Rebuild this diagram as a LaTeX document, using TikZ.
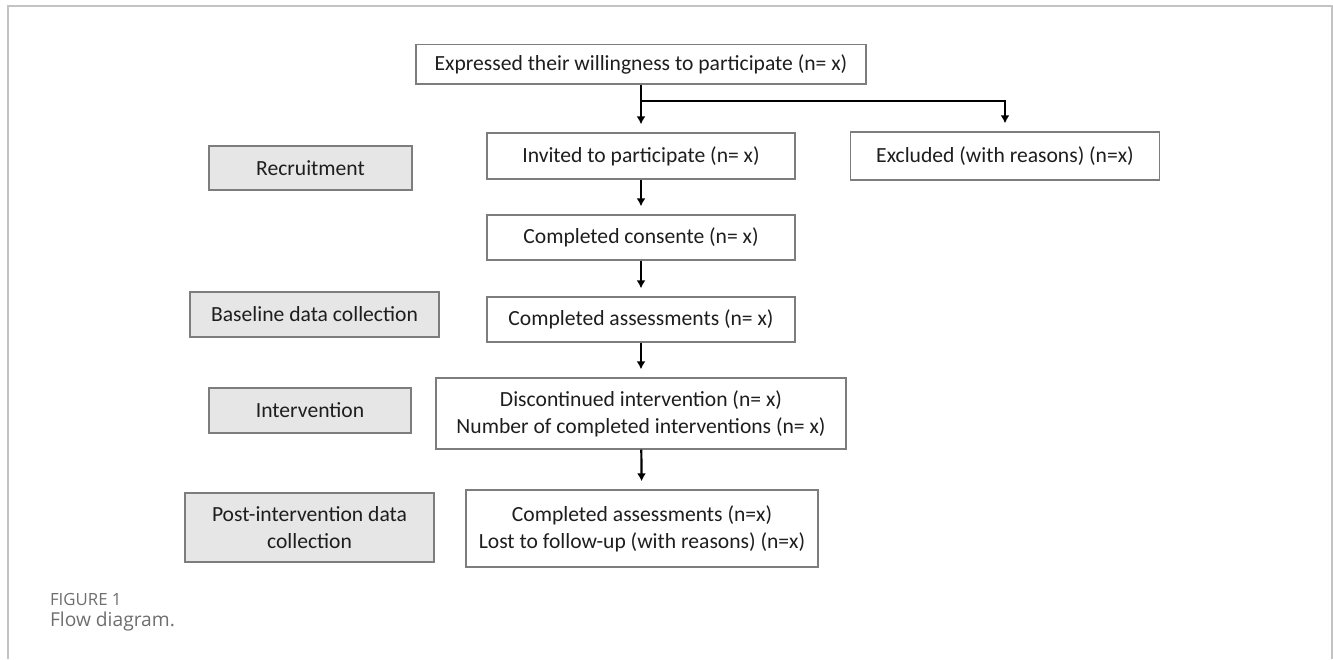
\documentclass[tikz,border=0pt]{standalone}
\usepackage{fontspec}
\setmainfont{Carlito}
\newfontfamily\piefont{Open Sans}
\usetikzlibrary{arrows.meta}
\definecolor{cajagris}{RGB}{230,230,230}
\definecolor{bordegris}{RGB}{125,125,125}
\definecolor{textogris}{RGB}{30,30,30}
\definecolor{piegris}{RGB}{110,110,110}
\definecolor{marcogris}{RGB}{195,195,195}

\begin{document}
\begin{tikzpicture}[x=0.5pt, y=-0.5pt,
                    >={Latex[length=4pt,width=4.5pt]},
                    every node/.style={font=\fontsize{10.8}{13.4}\selectfont, text=textogris},
                    caja/.style={draw=bordegris, line width=0.7pt, fill=white,
                                 align=center, inner sep=0pt},
                    etapa/.style={caja, fill=cajagris},
                    flecha/.style={->, line width=1.1pt, shorten >=4pt}]

    \useasboundingbox (0,0) rectangle (1333,659);

    % marco de la figura
    \draw[marcogris, line width=0.75pt] (8,659) -- (8,6) -- (1332,6) -- (1332,659);

    % ==========================================================
    % columna de etapas
    % ==========================================================
    \node[etapa, minimum width=101.5pt, minimum height=22pt] (lrecl) at (310.5,168) {Recruitment};
    \node[etapa, minimum width=124.5pt, minimum height=22.5pt] (lbase) at (314.5,314.5) {Baseline data collection};
    \node[etapa, minimum width=101pt, minimum height=22.5pt] (linterv) at (310,410.5) {Intervention};
    \node[etapa, minimum width=124.5pt, minimum height=34.5pt] (lpost) at (309.5,527.5)
        {Post-intervention data\\collection};

    % ==========================================================
    % flujo de participantes
    % ==========================================================
    \node[caja, minimum width=225pt, minimum height=19.7pt] (expr) at (641,64.4)
        {Expressed their willingness to participate (n= x)};
    \node[caja, minimum width=154pt, minimum height=23pt] (invit) at (641,156)
        {Invited to participate (n= x)};
    \node[caja, minimum width=154.5pt, minimum height=24pt] (excl) at (1005,156)
        {Excluded (with reasons) (n=x)};
    \node[caja, minimum width=154pt, minimum height=22.5pt] (consent) at (641,237.5)
        {Completed consente (n= x)};
    \node[caja, minimum width=154pt, minimum height=22.5pt] (evalbase) at (641,319.5)
        {Completed assessments (n= x)};
    \node[caja, minimum width=205pt, minimum height=35.5pt] (interv) at (641,413.5)
        {Discontinued intervention (n= x)\\Number of completed interventions (n= x)};
    \node[caja, minimum width=176pt, minimum height=38.5pt] (evalpost) at (642,528.5)
        {Completed assessments (n=x)\\Lost to follow-up (with reasons) (n=x)};

    % flechas
    \coordinate (rama) at (641,101);
    \draw[flecha] (expr.south) -- (invit.north);
    \draw[line width=1.1pt] (expr.south) -- (rama);
    \draw[flecha] (rama) -| (excl.north);
    \draw[flecha] (invit) -- (consent);
    \draw[flecha] (consent) -- (evalbase);
    \draw[flecha] (evalbase) -- (interv);
    \draw[flecha] (interv) -- (evalpost);

    % pie de figura
    \node[anchor=base west, text=piegris, font=\piefont\fontsize{8.4}{10}\selectfont] (figlab) at (43,605)
        {FIGURE 1};
    \node[anchor=base west, text=piegris, font=\piefont\fontsize{9.6}{11}\selectfont] (figcap) at (43,626)
        {Flow diagram.};

\end{tikzpicture}
\end{document}
